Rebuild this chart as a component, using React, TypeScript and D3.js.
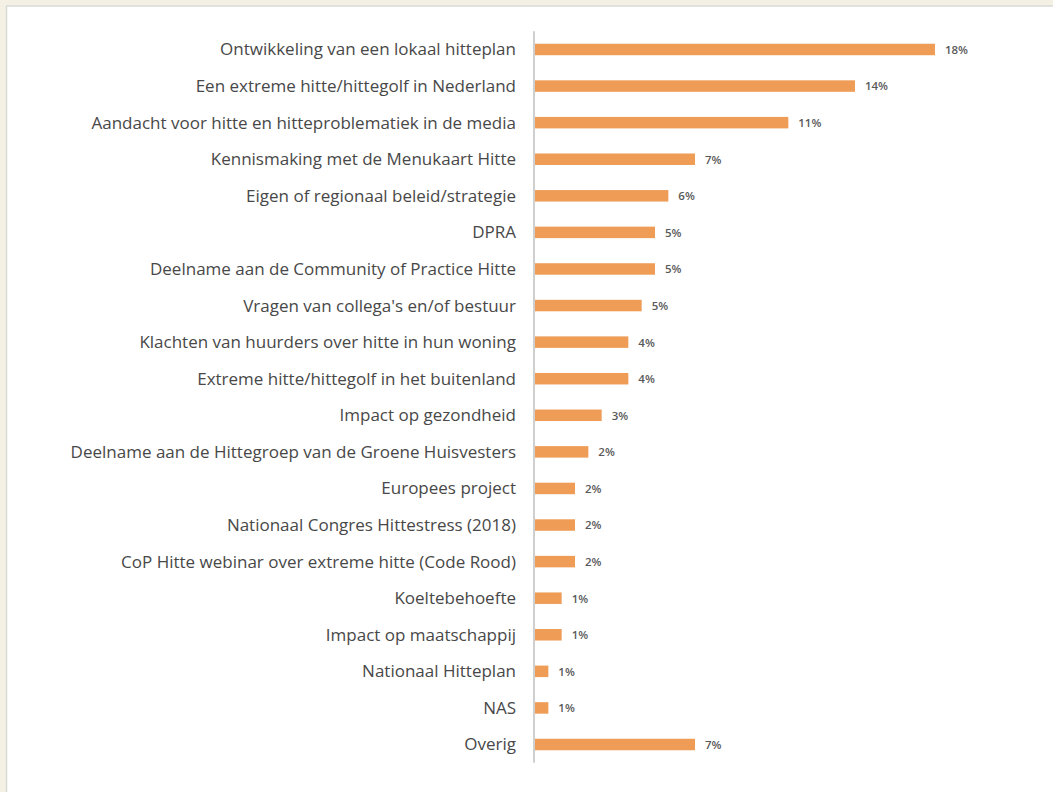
import React from "react";
import * as d3 from "d3";

const categories: string[] = [
  "Ontwikkeling van een lokaal hitteplan",
  "Een extreme hitte/hittegolf in Nederland",
  "Aandacht voor hitte en hitteproblematiek in de media",
  "Kennismaking met de Menukaart Hitte",
  "Eigen of regionaal beleid/strategie",
  "DPRA",
  "Deelname aan de Community of Practice Hitte",
  "Vragen van collega's en/of bestuur",
  "Klachten van huurders over hitte in hun woning",
  "Extreme hitte/hittegolf in het buitenland",
  "Impact op gezondheid",
  "Deelname aan de Hittegroep van de Groene Huisvesters",
  "Europees project",
  "Nationaal Congres Hittestress (2018)",
  "CoP Hitte webinar over extreme hitte (Code Rood)",
  "Koeltebehoefte",
  "Impact op maatschappij",
  "Nationaal Hitteplan",
  "NAS",
  "Overig",
];

const values: number[] = [
  18.0, 14.4, 11.4, 7.2, 6.0, 5.4, 5.4, 4.8, 4.2, 4.2, 3.0, 2.4, 1.8, 1.8, 1.8,
  1.2, 1.2, 0.6, 0.6, 7.2,
];

const W = 1053;
const H = 792;

export default function App() {
  const x = d3.scaleLinear().domain([0, 20]).range([535, 979.4]);
  const y = d3
    .scaleBand<string>()
    .domain(categories)
    .range([31.2, 762.8])
    .paddingInner(0.686)
    .paddingOuter(0.343);
  const fmt = (v: number) => `${Math.round(v)}%`;
  const labelFont = "'Open Sans', 'Noto Sans', sans-serif";

  return (
    <svg
      width={W}
      height={H}
      style={{ position: "absolute", left: 0, top: 0, display: "block" }}
    >
      <rect x={0} y={0} width={W} height={H} fill="#F4F0E3" />
      <rect
        x={6.5}
        y={6}
        width={W}
        height={H}
        fill="#FFFFFF"
        stroke="#D9D9D6"
        strokeWidth={1.5}
      />
      {categories.map((c, i) => {
        const yc = (y(c) as number) + y.bandwidth() / 2;
        return (
          <g key={c}>
            <text
              x={x(0) - 19}
              y={yc}
              dy="0.35em"
              textAnchor="end"
              fontFamily={labelFont}
              fontSize={17}
              fill="#484848"
            >
              {c}
            </text>
            <rect
              x={x(0)}
              y={y(c)}
              width={x(values[i]) - x(0)}
              height={y.bandwidth()}
              fill="#EE9C56"
            />
            <text
              x={x(values[i]) + 10}
              y={yc}
              dy="0.38em"
              fontFamily={labelFont}
              fontSize={11.5}
              fontWeight={600}
              fill="#595959"
            >
              {fmt(values[i])}
            </text>
          </g>
        );
      })}
      <line
        x1={x(0) - 1}
        x2={x(0) - 1}
        y1={y.range()[0]}
        y2={y.range()[1]}
        stroke="#BFBFBF"
        strokeWidth={1.5}
      />
    </svg>
  );
}
